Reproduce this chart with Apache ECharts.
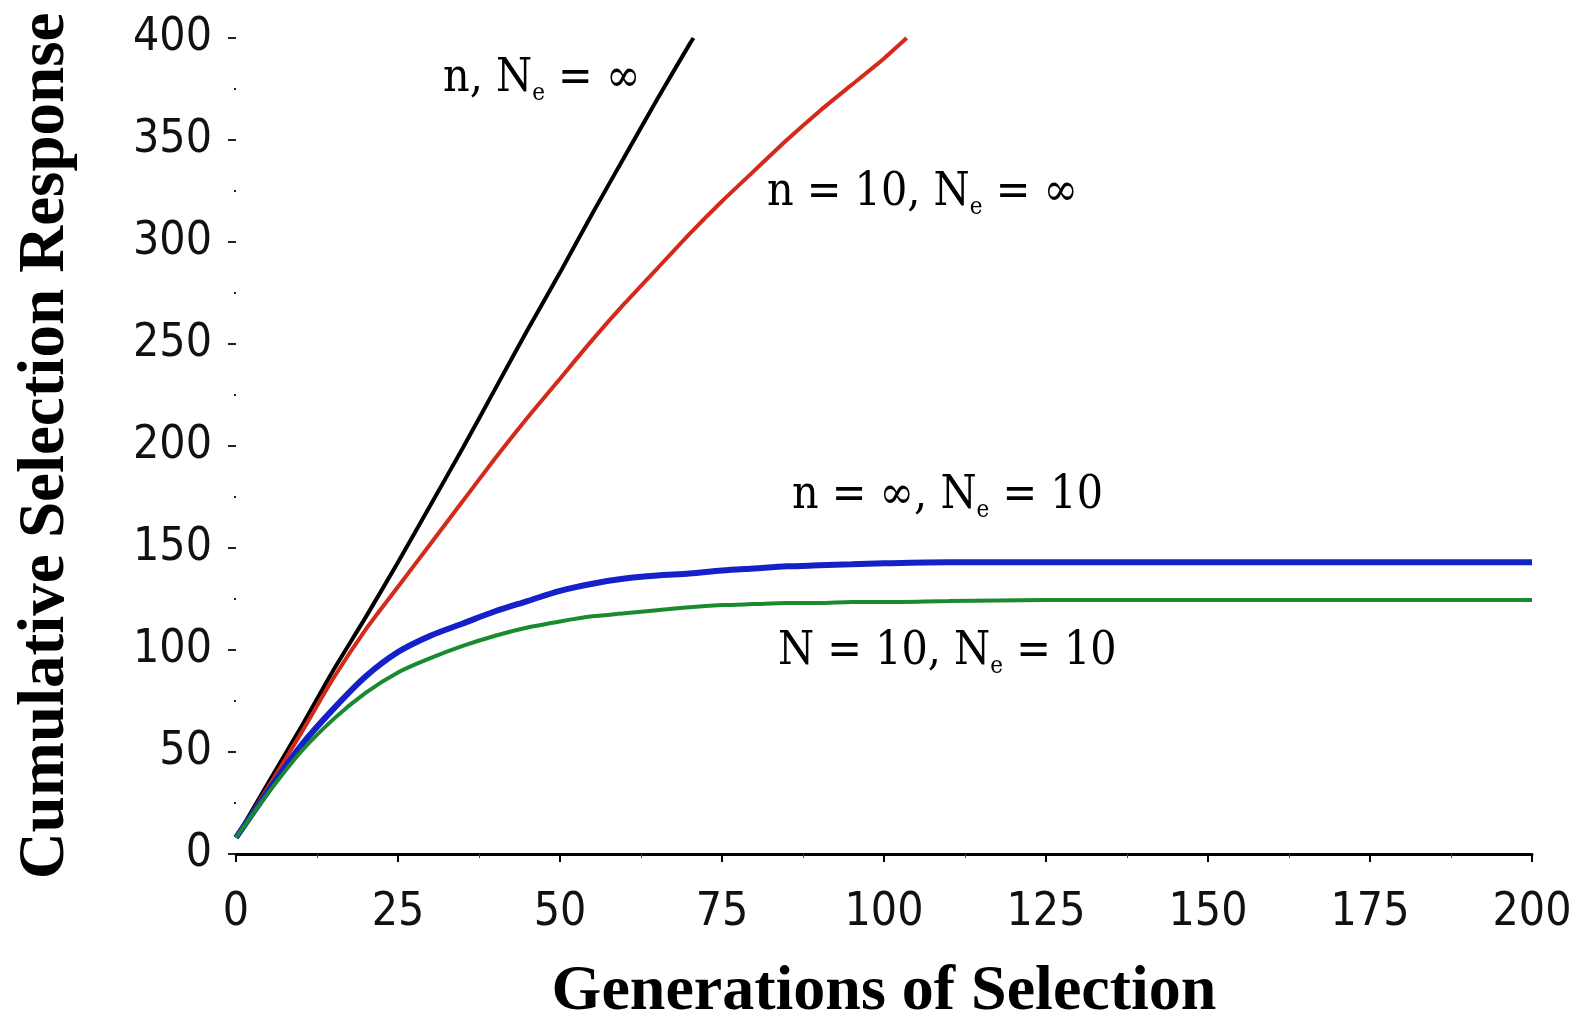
<!DOCTYPE html>
<html>
<head>
<meta charset="utf-8">
<script src="https://cdn.jsdelivr.net/npm/echarts@6/dist/echarts.min.js"></script>
<style>
  html, body { margin: 0; padding: 0; background: #fff; }
  #chart { width: 1579px; height: 1023px; }
</style>
</head>
<body>
<div id="chart"></div>
<script>
// generations and cumulative response
const gensInf = [0, 5, 10, 15, 20, 25, 30, 35, 40, 45, 50, 55, 60, 65, 70, 70.6]
const respInf = [8, 35, 62, 90, 116, 143, 171, 199, 228, 257, 285, 314, 342, 370, 397, 400]

const gensN10 = [0, 5, 10, 15, 20, 25, 30, 35, 40, 45, 50, 55, 60, 65, 70, 75, 80, 85, 90, 95, 100, 103.5]
const respN10 = [8, 33, 59, 86, 110, 131, 152, 173, 194, 214, 233, 252, 270, 287, 304, 320, 335, 350, 364, 377, 390, 400]

const gensDrift = [0, 5, 10, 15, 20, 25, 30, 35, 40, 45, 50, 55, 60, 65, 70, 75, 80, 85, 90, 95, 100, 110, 125, 150, 175, 200]
const respDriftInf = [8, 31, 53, 71, 87, 99, 107, 113, 119, 124, 129, 132.5, 135, 136.5, 137.5, 139, 140, 141, 141.5, 142, 142.5, 143, 143, 143, 143, 143]
const respDrift10 = [8, 30, 50, 66, 79, 89, 96, 102, 107, 111, 114, 116.5, 118, 119.5, 121, 122, 122.5, 123, 123, 123.5, 123.5, 124, 124.5, 124.5, 124.5, 124.5]

const xTicks = { min: 0, max: 200, step: 25 }
const yTicks = { min: 0, max: 400, step: 50 }

const chart = echarts.init(document.getElementById('chart'))

const zip = (xs, ys) => xs.map((x, i) => [x, ys[i]])

const labelFont = 'DejaVu Serif Condensed, DejaVu Serif, serif'
const rich = {
  a: { fontFamily: labelFont, fontSize: 46, lineHeight: 54, color: '#111' },
  sub: { fontFamily: labelFont, fontSize: 24, lineHeight: 6, verticalAlign: 'bottom', color: '#111' }
}
function note(x, y, txt) {
  return { type: 'text', x: x, y: y, style: { text: txt, rich: rich, align: 'left', verticalAlign: 'middle' }, z: 10 }
}

const option = {
  animation: false,
  backgroundColor: '#fff',
  grid: { left: 236, right: 47, top: 38, bottom: 169, outerBoundsMode: 'none', containLabel: false },
  xAxis: {
    type: 'value',
    min: xTicks.min, max: xTicks.max, interval: xTicks.step,
    name: 'Generations of Selection',
    nameLocation: 'middle',
    nameGap: 106,
    nameTextStyle: { fontFamily: 'Liberation Serif', fontWeight: 'bold', fontSize: 64, color: '#000' },
    axisLine: { lineStyle: { color: '#000', width: 3 } },
    axisTick: { length: 8, lineStyle: { color: '#000', width: 2 } },
    minorTick: { show: true, splitNumber: 2, length: 4, lineStyle: { color: '#444', width: 1 } },
    axisLabel: { margin: 36, fontFamily: 'DejaVu Sans Condensed', fontSize: 46, color: '#111' },
    splitLine: { show: false }
  },
  yAxis: {
    type: 'value',
    min: yTicks.min, max: yTicks.max, interval: yTicks.step,
    name: 'Cumulative Selection Response',
    nameLocation: 'middle',
    nameGap: 157,
    nameTextStyle: { fontFamily: 'Liberation Serif', fontWeight: 'bold', fontSize: 65, color: '#000' },
    axisLine: { show: false },
    axisTick: { show: true, length: 8, lineStyle: { color: '#222', width: 2 } },
    minorTick: { show: true, splitNumber: 2, length: 2, lineStyle: { color: '#222', width: 2 } },
    axisLabel: { margin: 24, fontFamily: 'DejaVu Sans Condensed', fontSize: 46, color: '#111' },
    splitLine: { show: false }
  },
  series: [
    { name: 'n, Ne = inf', type: 'line', data: zip(gensInf, respInf), showSymbol: false, smooth: 0.2,
      lineStyle: { color: '#000', width: 4 } },
    { name: 'n = 10, Ne = inf', type: 'line', data: zip(gensN10, respN10), showSymbol: false, smooth: 0.2,
      lineStyle: { color: '#d42a1c', width: 4 } },
    { name: 'n = inf, Ne = 10', type: 'line', data: zip(gensDrift, respDriftInf), showSymbol: false, smooth: 0.3,
      lineStyle: { color: '#1420c8', width: 6 } },
    { name: 'N = 10, Ne = 10', type: 'line', data: zip(gensDrift, respDrift10), showSymbol: false, smooth: 0.3,
      lineStyle: { color: '#1a8a2e', width: 4 } }
  ],
  graphic: [
    note(443, 79, '{a|n, N}{sub|e}{a| = ∞}'),
    note(767, 193, '{a|n = 10, N}{sub|e}{a| = ∞}'),
    note(792, 496, '{a|n = ∞, N}{sub|e}{a| = 10}'),
    note(778, 652, '{a|N = 10, N}{sub|e}{a| = 10}')
  ]
}

chart.setOption(option)
</script>
</body>
</html>
